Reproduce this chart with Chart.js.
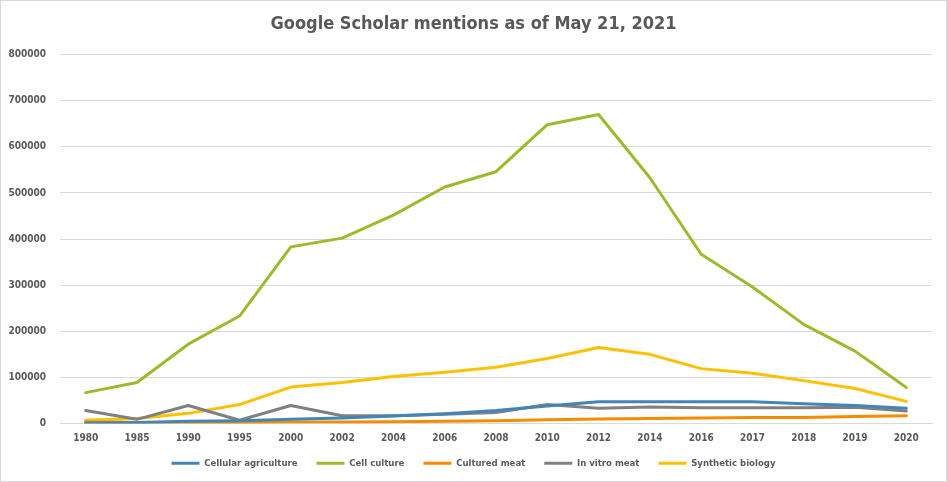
<!DOCTYPE html>
<html><head><meta charset="utf-8">
<script src="https://cdn.jsdelivr.net/npm/chart.js@4/dist/chart.umd.min.js"></script>
<style>
html,body{margin:0;padding:0;background:#fff;}
#wrap{position:absolute;left:0;top:0;width:945px;height:480px;border:1px solid #d9d9d9;background:#fff;}
canvas{display:block;}
</style></head><body>
<div id="wrap"><canvas id="c" width="945" height="480"></canvas></div>
<script>
const years = ["1980","1985","1990","1995","2000","2002","2004","2006","2008","2010","2012","2014","2016","2017","2018","2019","2020"];
const cellularAgriculture = [1000,2000,5000,6000,9000,12000,16000,21000,28000,38000,47000,47000,47000,47000,43000,39000,33000];
const cellCulture = [67000,89000,172000,233000,383000,402000,452000,513000,546000,648000,670000,533000,367000,296000,215000,157000,78000];
const culturedMeat = [3000,2000,2000,2000,3000,3000,4000,5000,6000,8000,10000,11000,12000,13000,13000,15000,17000];
const inVitroMeat = [28000,9000,39000,7000,39000,17000,17000,20000,24000,41000,33000,36000,34000,34000,34000,35000,27000];
const syntheticBiology = [7000,11000,22000,41000,79000,89000,102000,111000,122000,141000,165000,150000,119000,109000,93000,76000,48000];
const yTicks = [0,100000,200000,300000,400000,500000,600000,700000,800000];

const FONT = "'DejaVu Sans Condensed','DejaVu Sans',sans-serif";
const W = 'bold';
function ds(label, data, color){
  return {label, data, borderColor: color, backgroundColor: color, borderWidth: 3, pointRadius: 0, tension: 0, fill:false,
    borderCapStyle: 'round', borderJoinStyle: 'round'};
}
const noClipLabels = {
  id: 'noClipLabels',
  beforeDraw(chart){
    chart.scales.x._computeLabelArea = function(){ return undefined; };
    chart.scales.y._computeLabelArea = function(){ return undefined; };
  }
};
new Chart(document.getElementById('c'), {
  type: 'line',
  plugins: [noClipLabels],
  data: {
    labels: years,
    datasets: [
      ds('Cellular agriculture', cellularAgriculture, '#4285b6'),
      ds('Cell culture', cellCulture, '#9bbb2d'),
      ds('Cultured meat', culturedMeat, '#f58c00'),
      ds('In vitro meat', inVitroMeat, '#808080'),
      ds('Synthetic biology', syntheticBiology, '#ffc000')
    ]
  },
  options: {
    responsive: false,
    animation: false,
    layout: {padding: {left: 14, right: 14, top: 9, bottom: 3}},
    plugins: {
      title: {display: true, text: 'Google Scholar mentions as of May 21, 2021', color: '#595959',
        font: {family: FONT, size: 18, weight: W}, padding: {top: 4, bottom: 19}},
      legend: {position: 'bottom', labels: {boxWidth: 28, boxHeight: 3,
        color: '#595959', font: {family: FONT, size: 9.5, weight: W}, padding: 19,
        generateLabels: (chart) => Chart.defaults.plugins.legend.labels.generateLabels(chart)
          .map(item => Object.assign(item, {lineWidth: 0}))}},
      tooltip: {enabled: false}
    },
    scales: {
      x: {
        offset: true,
        afterFit: (s) => { s.height = 16; },
        grid: {display: false, drawTicks: false},
        border: {display: true, color: '#d9d9d9'},
        ticks: {color: '#595959', font: {family: FONT, size: 10, weight: W}, padding: 9, maxRotation: 0, autoSkip: false}
      },
      y: {
        min: 0, max: 800000,
        afterBuildTicks: (s) => { s.ticks = yTicks.map(v => ({value: v})); },
        afterFit: (s) => { s.width = 45; },
        grid: {color: '#d9d9d9', drawTicks: false},
        border: {display: false},
        ticks: {color: '#595959', font: {family: FONT, size: 10, weight: W}, padding: 14,
          callback: (v) => String(v)}
      }
    }
  }
});
</script>
</body></html>
